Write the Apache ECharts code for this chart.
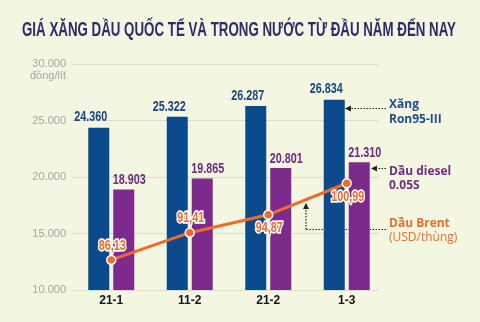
<!DOCTYPE html>
<html><head><meta charset="utf-8">
<script src="https://cdn.jsdelivr.net/npm/echarts@6/dist/echarts.min.js"></script>
<style>html,body{margin:0;padding:0;background:#f3f6e1}#c{width:480px;height:322px}</style>
</head><body><div id="c"></div>
<script>
const categories = ['21-1', '11-2', '21-2', '1-3'];
const xangRon95 = [24360, 25322, 26287, 26834];
const dauDiesel = [18903, 19865, 20801, 21310];
const dauBrent = [86.13, 91.41, 94.87, 100.99];
const brentLabelPos = ['top', 'top', 'bottom', 'bottom'];
const yMin = 10000, yMax = 30000, yStep = 5000;
const titleText = 'GIÁ XĂNG DẦU QUỐC TẾ VÀ TRONG NƯỚC TỪ ĐẦU NĂM ĐẾN NAY';

const SANS = '"Liberation Sans", Arial, sans-serif';
const BLUE = '#0c4a8e', PURPLE = '#7c2a8c', ORANGE = '#ef6a2b';
const LABEL_FONT = 'bold 15px ' + SANS;
const SQUEEZE = 0.72;
const fmtVnd = v => String(v).replace(/\B(?=(\d{3})+(?!\d))/g, '.');
const fmtUsd = v => v.toFixed(2).replace('.', ',');

const TITLE_FONT = 'bold 21px ' + SANS;
const ctx = document.createElement('canvas').getContext('2d');
ctx.font = TITLE_FONT;
const titleScale = 434 / ctx.measureText(titleText).width;

const chart = echarts.init(document.getElementById('c'), null, {renderer: 'canvas'});

function arrow(x1, y1, x2, y2, dir) {
  const els = [{
    type: 'line', shape: {x1, y1, x2, y2}, silent: true,
    style: {stroke: '#222', lineWidth: 1.2, lineDash: [1.5, 1.5]}
  }];
  let pts;
  if (dir === 'left') pts = [[x2, y2], [x2 + 6, y2 - 3], [x2 + 6, y2 + 3]];
  else pts = [[x2, y2], [x2 - 3, y2 + 6], [x2 + 3, y2 + 6]];
  els.push({type: 'polygon', shape: {points: pts}, style: {fill: '#222'}, silent: true});
  return els;
}

function labelSeries(values, yAxisIndex, dx, gapTop, gapBottom, color, fmt, posArr, halo) {
  return {
    type: 'custom', xAxisIndex: 0, yAxisIndex, z: 10, silent: true,
    data: values.map((v, i) => [i, v]),
    encode: {x: 0, y: 1},
    renderItem: (params, api) => {
      const i = api.value(0), v = api.value(1);
      const p = api.coord([i, v]);
      const below = posArr && posArr[i] === 'bottom';
      const base = {
        text: fmt(v), font: LABEL_FONT,
        align: 'center', verticalAlign: below ? 'top' : 'bottom'
      };
      const x = p[0] + dx, y = below ? p[1] + gapBottom : p[1] - gapTop;
      const children = [];
      if (halo) {
        children.push({type: 'text', x, y, scaleX: SQUEEZE,
          style: Object.assign({}, base, {fill: '#fff', stroke: '#fff', lineWidth: 3.5, lineJoin: 'round'})});
      }
      children.push({type: 'text', x, y, scaleX: SQUEEZE,
        style: Object.assign({}, base, {fill: color})});
      return {type: 'group', children};
    }
  };
}

const option = {
  backgroundColor: '#f3f6e1',
  animation: false,
  grid: [
    {left: 72, right: 94, top: 64, bottom: 32},
    {left: 72, right: 102, top: 64, bottom: 32}
  ],
  xAxis: [
    {type: 'category', data: categories, gridIndex: 0,
     axisLine: {show: false}, axisTick: {show: false},
     axisLabel: {margin: 5, fontFamily: SANS, fontWeight: 'bold', fontSize: 12, color: '#151515'}},
    {type: 'value', gridIndex: 1, show: false, min: 0, max: 1}
  ],
  yAxis: [
    {type: 'value', gridIndex: 0, min: yMin, max: yMax, interval: yStep, show: false},
    {type: 'value', gridIndex: 0, min: 80.3, max: 124.1, show: false},
    {type: 'value', gridIndex: 1, min: yMin, max: yMax, interval: yStep,
     axisLine: {show: false}, axisTick: {show: false},
     splitLine: {lineStyle: {color: '#dcdccb', width: 1}},
     axisLabel: {margin: 6, formatter: fmtVnd, fontFamily: SANS, fontSize: 11, color: '#a6a69c'}}
  ],
  series: [
    {name: 'Xăng Ron95-III', type: 'bar', xAxisIndex: 0, yAxisIndex: 0, data: xangRon95,
     barWidth: 21, barGap: '19%', itemStyle: {color: BLUE}},
    {name: 'Dầu diesel 0.05S', type: 'bar', xAxisIndex: 0, yAxisIndex: 0, data: dauDiesel,
     barWidth: 21, barGap: '19%', itemStyle: {color: PURPLE}},
    {name: 'Dầu Brent', type: 'line', xAxisIndex: 0, yAxisIndex: 1, z: 5,
     data: dauBrent,
     symbol: 'circle', symbolSize: 9,
     lineStyle: {color: ORANGE, width: 3},
     itemStyle: {color: ORANGE, borderColor: '#fff', borderWidth: 1.5}},
    labelSeries(xangRon95, 0, -20.5, 3, 0, '#17467f', fmtVnd),
    labelSeries(dauDiesel, 0, 18, 2, 0, '#6e2a80', fmtVnd),
    labelSeries(dauBrent, 1, 1, 7, 6, ORANGE, fmtUsd, brentLabelPos, true)
  ],
  graphic: [
    {type: 'text', x: 239, y: 30, scaleX: titleScale, silent: true,
     style: {text: titleText, align: 'center', verticalAlign: 'middle', fill: '#2d2b6c', font: TITLE_FONT}},
    {type: 'text', x: 66, y: 76, silent: true,
     style: {text: 'đồng/lít', align: 'right', verticalAlign: 'middle', fill: '#a6a69c',
             font: '11px ' + SANS}},
    {type: 'text', x: 389, y: 97, silent: true,
     style: {text: 'Xăng\nRon95-III', fill: '#1b4f8e', lineHeight: 15,
             font: 'bold 12px "Open Sans", "Liberation Sans", sans-serif'}},
    {type: 'text', x: 389, y: 165, silent: true,
     style: {text: 'Dầu diesel\n0.05S', fill: '#742b86', lineHeight: 14,
             font: 'bold 12px "Open Sans", "Liberation Sans", sans-serif'}},
    {type: 'text', x: 389, y: 218, silent: true,
     style: {text: 'Dầu Brent', fill: '#e8702f',
             font: 'bold 12px "Open Sans", "Liberation Sans", sans-serif'}},
    {type: 'text', x: 389, y: 232, silent: true,
     style: {text: '(USD/thùng)', fill: '#e8702f',
             font: '12px "Open Sans", "Liberation Sans", sans-serif'}},
    ...arrow(386, 108.5, 345, 108.5, 'left'),
    ...arrow(386, 168.5, 371, 168.5, 'left'),
    {type: 'line', shape: {x1: 386, y1: 229.5, x2: 306, y2: 229.5}, silent: true,
     style: {stroke: '#222', lineWidth: 1.2, lineDash: [1.5, 1.5]}},
    ...arrow(306, 229.5, 306, 203, 'up')
  ]
};
chart.setOption(option);
</script>
</body></html>
